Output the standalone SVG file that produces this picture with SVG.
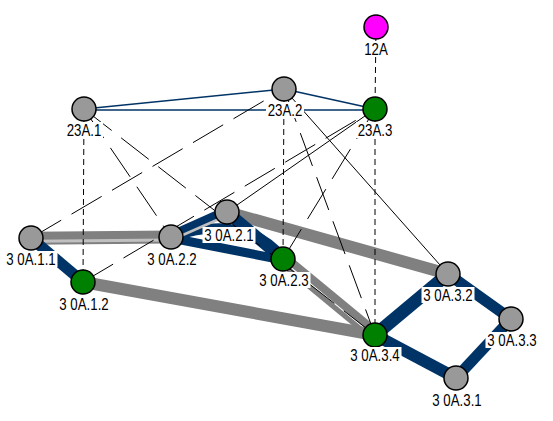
<svg xmlns="http://www.w3.org/2000/svg" width="553" height="421" viewBox="0 0 553 421">
<style>
.bg{fill:#ffffff}
.nv{stroke:#003366;fill:none}
.gy{stroke:#808080;fill:none}
.lg{stroke:#c0c0c0;fill:none}
.top{stroke:#003366;stroke-width:1.5;fill:none}
.sd{stroke:#000;stroke-width:1;stroke-dasharray:6 4;fill:none}
.ld{stroke:#000;stroke-width:1;stroke-dasharray:35 12;fill:none}
.sl{stroke:#000;stroke-width:1;fill:none}
.n{stroke:#000;stroke-width:1.5}
.g{fill:#999999}
.gr{fill:#008000}
.mg{fill:#ff00ff}
.lb{fill:#fff}
text{font-family:"Liberation Sans",Arial,sans-serif;font-size:17px;fill:#000;text-anchor:middle}
</style>
<rect width="553" height="421" class="bg"/>
<g id="connectors">
  <!-- thick bands -->
  <line class="gy" stroke-width="13" x1="31" y1="238.3" x2="171" y2="237"/>
  <line class="lg" stroke-width="3" x1="31" y1="241.3" x2="171" y2="240"/>
  <line class="nv" stroke-width="11" x1="31" y1="238" x2="83" y2="282"/>
  <line class="gy" stroke-width="12" x1="83" y1="282" x2="375" y2="335"/>
  <line class="gy" stroke-width="12" x1="227" y1="212" x2="448" y2="274"/>
  <line class="gy" stroke-width="8" x1="284.9" y1="256.7" x2="376.9" y2="332.7"/>
  <line class="gy" stroke-width="5" x1="280.1" y1="262.5" x2="372.1" y2="338.5"/>
  <path class="nv" stroke-width="10" d="M171,237 Q245,212 283,258"/>
  <line class="nv" stroke-width="9" x1="171" y1="238" x2="283" y2="260"/>
  <line class="nv" stroke-width="12" x1="227" y1="212" x2="283" y2="259"/>
  <line class="nv" stroke-width="10" x1="171" y1="236" x2="227" y2="211"/>
  <line class="lg" stroke-width="2.5" x1="172.7" y1="239.5" x2="229.3" y2="214.5"/>
  <line class="nv" stroke-width="13" x1="375" y1="335" x2="448" y2="274"/>
  <line class="nv" stroke-width="11" x1="448" y1="274" x2="511" y2="319"/>
  <line class="nv" stroke-width="11" x1="511" y1="319" x2="456" y2="378"/>
  <line class="nv" stroke-width="12" x1="456" y1="378" x2="375" y2="335"/>
  <!-- top navy lines -->
  <line class="top" x1="84" y1="109" x2="284" y2="89"/>
  <line class="top" x1="84" y1="110" x2="375" y2="110"/>
  <line class="top" x1="284" y1="89" x2="375" y2="109"/>
  <!-- short dashed verticals -->
  <line class="sd" x1="376" y1="27" x2="375" y2="109"/>
  <line class="sd" x1="84" y1="109" x2="83" y2="282"/>
  <line class="sd" x1="284" y1="89" x2="283" y2="259"/>
  <line class="sd" x1="375" y1="109" x2="375" y2="335"/>
  <!-- long dashed -->
  <line class="ld" x1="84" y1="109" x2="171" y2="237"/>
  <line class="ld" x1="84" y1="109" x2="375" y2="335"/>
  <line class="ld" x1="31" y1="238" x2="284" y2="89"/>
  <line class="ld" x1="83" y1="282" x2="375" y2="109"/>
  <line class="ld" x1="284" y1="89" x2="375" y2="335"/>
  <line class="ld" x1="375" y1="109" x2="283" y2="259"/>
  <!-- solid thin -->
  <line class="sl" x1="227" y1="212" x2="375" y2="109"/>
  <line class="sl" x1="284" y1="89" x2="448" y2="274"/>
</g>
<g id="n12A"><circle class="n mg" cx="376" cy="27" r="12"/><rect class="lb" x="362.5" y="41" width="27" height="16"/><text transform="translate(376,55) scale(0.78,1)">12A</text></g>
<g id="n23A1"><circle class="n g" cx="84" cy="109" r="12"/><rect class="lb" x="65" y="122" width="38" height="16"/><text transform="translate(84,136) scale(0.78,1)">23A.1</text></g>
<g id="n23A2"><circle class="n g" cx="284" cy="89" r="12"/><rect class="lb" x="266" y="102" width="38" height="16"/><text transform="translate(285,116) scale(0.78,1)">23A.2</text></g>
<g id="n23A3"><circle class="n gr" cx="375" cy="109" r="12"/><rect class="lb" x="356" y="122" width="38" height="16"/><text transform="translate(375,136) scale(0.78,1)">23A.3</text></g>
<g id="n30A11"><circle class="n g" cx="31" cy="238" r="12"/><rect class="lb" x="4.5" y="251" width="53" height="16"/><text transform="translate(31,265) scale(0.78,1)">3 0A.1.1</text></g>
<g id="n30A22"><circle class="n g" cx="171" cy="237" r="12"/><rect class="lb" x="145.5" y="251" width="53" height="16"/><text transform="translate(172,265) scale(0.78,1)">3 0A.2.2</text></g>
<g id="n30A21"><circle class="n g" cx="227" cy="212" r="12"/><rect class="lb" x="202.5" y="227" width="53" height="16"/><text transform="translate(229,241) scale(0.78,1)">3 0A.2.1</text></g>
<g id="n30A12"><circle class="n gr" cx="83" cy="282" r="12"/><rect class="lb" x="57.5" y="296" width="53" height="16"/><text transform="translate(84,310) scale(0.78,1)">3 0A.1.2</text></g>
<g id="n30A23"><circle class="n gr" cx="283" cy="259" r="12"/><rect class="lb" x="257.5" y="272" width="53" height="16"/><text transform="translate(284,286) scale(0.78,1)">3 0A.2.3</text></g>
<g id="n30A32"><circle class="n g" cx="448" cy="274" r="12"/><rect class="lb" x="421.5" y="287" width="53" height="16"/><text transform="translate(448,301) scale(0.78,1)">3 0A.3.2</text></g>
<g id="n30A33"><circle class="n g" cx="511" cy="319" r="12"/><rect class="lb" x="485.5" y="332" width="53" height="16"/><text transform="translate(512,346) scale(0.78,1)">3 0A.3.3</text></g>
<g id="n30A34"><circle class="n gr" cx="375" cy="335" r="12"/><rect class="lb" x="348.5" y="347" width="53" height="16"/><text transform="translate(375,361) scale(0.78,1)">3 0A.3.4</text></g>
<g id="n30A31"><circle class="n g" cx="456" cy="378" r="12"/><rect class="lb" x="430.5" y="392" width="53" height="16"/><text transform="translate(457,406) scale(0.78,1)">3 0A.3.1</text></g>
</svg>
